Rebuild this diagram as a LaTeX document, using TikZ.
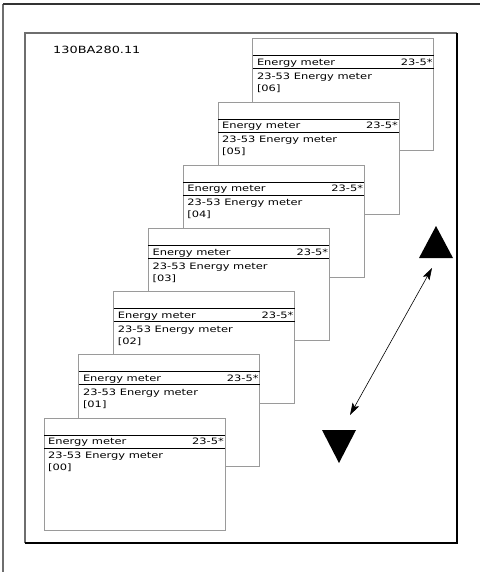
\documentclass[tikz,border=0pt]{standalone}
\usepackage{fontspec}
\usetikzlibrary{arrows.meta}
\newfontfamily\lcdfont{DejaVu Sans}[FakeStretch=1.3]
\definecolor{panelgrey}{HTML}{9A9A9A}
\definecolor{framegrey}{HTML}{6E6E6E}

\begin{document}
\begin{tikzpicture}[x=1pt,y=-1pt,
  frame/.style={line width=1.1pt},
  panel/.style={draw=panelgrey,fill=white,line width=.8pt,anchor=north west,
    minimum width=181pt,minimum height=112pt,inner sep=0pt,outer sep=0pt},
  rule/.style={draw=black,line width=.9pt},
  lcd/.style={font=\lcdfont\fontsize{8.8}{10}\selectfont,inner sep=0pt},
  tag/.style={font=\lcdfont\fontsize{9.9}{11}\selectfont,inner sep=0pt},
  updown/.style={{Stealth[length=12pt,width=7.5pt,inset=2.5pt]}-{Stealth[length=12pt,width=7.5pt,inset=2.5pt]},line width=.6pt},
  key/.style={fill=black}]
\useasboundingbox (0,0) rectangle (480,572);
\fill[white] (0,0) rectangle (480,572);

% OUTER SHEET EDGE, OPEN TO THE BOTTOM AND RIGHT
\draw[frame,draw=framegrey] (3,572) -- (3,4);
\draw[frame,draw=black!80] (3,4) -- (480,4);

% INNER FRAME
\draw[frame,draw=framegrey] (25,543) -- (25,33) -- (457,33);
\draw[frame] (457,33) -- (457,543) -- (25,543);
\node[tag,anchor=base west] (ident) at (53,53.3) {130BA280.11};

% STACK OF DISPLAY PANELS, BACK ONE FIRST
\foreach \i in {6,5,...,0}{
  \pgfmathsetmacro{\px}{44+34.8*\i}
  \pgfmathsetmacro{\py}{418-63.2*\i}
  \node[panel] (p\i) at (\px,\py) {};
  \draw[rule] ([yshift=-17pt]p\i.north west) -- ([yshift=-17pt]p\i.north east);
  \draw[rule] ([yshift=-30pt]p\i.north west) -- ([yshift=-30pt]p\i.north east);
  \node[lcd,anchor=base west] (t\i) at ([xshift=4pt,yshift=-26.6pt]p\i.north west) {Energy meter};
  \node[lcd,anchor=base east] (g\i) at ([xshift=-1pt,yshift=-26.6pt]p\i.north east) {23-5*};
  \node[lcd,anchor=base west] (n\i) at ([xshift=4pt,yshift=-40.6pt]p\i.north west) {23-53 Energy meter};
  \node[lcd,anchor=base west] (v\i) at ([xshift=4pt,yshift=-52.6pt]p\i.north west) {[0\i]};
}

% SCROLL KEYS
\fill[key] (419,258) -- (453,258) -- (436,226) -- cycle;
\fill[key] (322,430) -- (356,430) -- (339,463) -- cycle;
\coordinate (upend) at (432,268);
\coordinate (downend) at (350,415);
\draw[updown] (downend) -- (upend);
\end{tikzpicture}
\end{document}
